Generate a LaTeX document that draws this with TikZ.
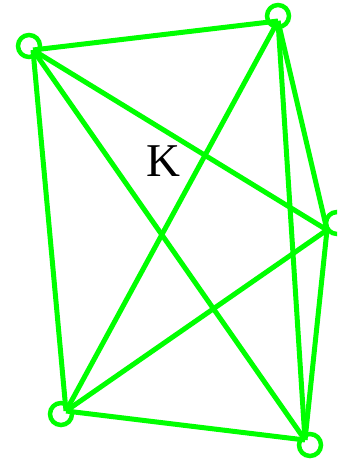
\documentclass[tikz,border=0pt]{standalone}
\usepackage{fontspec}
\setmainfont{Liberation Serif}
\begin{document}
\begin{tikzpicture}[x=1pt,y=-1pt,
  vtx/.style={circle,draw=green,line width=4.5pt,minimum size=22pt,inner sep=0pt},
  edge/.style={draw=green,line width=5pt}]
\useasboundingbox (0,0) rectangle (337,460);
\begin{scope}
\clip (0,0) rectangle (337,460);
\node[vtx] (A) at (29,46) {};
\node[vtx] (B) at (278,16) {};
\node[vtx] (C) at (337,223) {};
\node[vtx] (D) at (61,414) {};
\node[vtx] (E) at (310,445) {};
\coordinate (a) at (33,50);
\coordinate (b) at (278,21);
\coordinate (c) at (327,230);
\coordinate (d) at (66,411);
\coordinate (e) at (305,440);
\draw[edge] (a) -- (b);
\draw[edge] (a) -- (c);
\draw[edge] (a) -- (d);
\draw[edge] (a) -- (e);
\draw[edge] (b) -- (c);
\draw[edge] (b) -- (d);
\draw[edge] (b) -- (e);
\draw[edge] (c) -- (d);
\draw[edge] (c) -- (e);
\draw[edge] (d) -- (e);
\end{scope}
\node (K) at (163,161) {\fontsize{47}{47}\selectfont K};
\end{tikzpicture}
\end{document}
